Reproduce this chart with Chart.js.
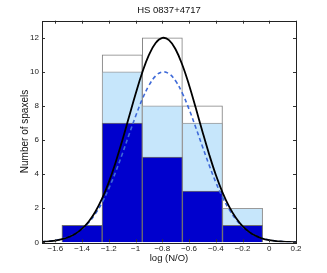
<!DOCTYPE html>
<html>
<head>
<meta charset="utf-8">
<script src="https://cdn.jsdelivr.net/npm/chart.js@4.4.0/dist/chart.umd.min.js"></script>
<style>
  html, body { margin: 0; padding: 0; background: #fff; }
  #wrap { width: 327px; height: 273px; }
</style>
</head>
<body>
<div id="wrap"><canvas id="hist" width="327" height="273"></canvas></div>
<script>
// histogram bins (centre of each 0.3 wide bin)
var binCenters = [-1.4, -1.1, -0.8, -0.5, -0.2];
var countsAll = [1, 11, 12, 8, 2];
var countsLight = [1, 10, 8, 7, 2];
var countsDark = [1, 7, 5, 3, 1];

// fitted curves
var curveX = [-1.7, -1.65, -1.6, -1.55, -1.5, -1.45, -1.4, -1.35, -1.3, -1.25,
    -1.2, -1.15, -1.1, -1.05, -1.0, -0.95, -0.9, -0.85, -0.8, -0.75,
    -0.7, -0.65, -0.6, -0.55, -0.5, -0.45, -0.4, -0.35, -0.3, -0.25,
    -0.2, -0.15, -0.1, -0.05, 0.0, 0.05, 0.1, 0.15, 0.2];
var fitAll = [0.03, 0.06, 0.10, 0.18, 0.31, 0.50, 0.80, 1.22, 1.81, 2.57,
    3.53, 4.67, 5.96, 7.33, 8.70, 9.96, 10.99, 11.69, 11.99, 11.86,
    11.31, 10.40, 9.23, 7.89, 6.50, 5.17, 3.96, 2.93, 2.09, 1.44,
    0.95, 0.61, 0.38, 0.22, 0.13, 0.07, 0.04, 0.02, 0.01];
var fitLight = [0.03, 0.06, 0.11, 0.19, 0.32, 0.50, 0.78, 1.16, 1.68, 2.34,
    3.16, 4.11, 5.17, 6.29, 7.39, 8.39, 9.20, 9.76, 9.99, 9.89,
    9.46, 8.74, 7.81, 6.74, 5.62, 4.53, 3.52, 2.65, 1.93, 1.35,
    0.92, 0.60, 0.38, 0.23, 0.14, 0.08, 0.04, 0.02, 0.01];

var xTicks = [-1.6, -1.4, -1.2, -1, -0.8, -0.6, -0.4, -0.2, 0, 0.2];
var yTicks = [0, 2, 4, 6, 8, 10, 12];

function pts(xs, ys) {
    return xs.map(function (x, i) { return { x: x, y: ys[i] }; });
}
function fmt(v) {
    return (v < 0 ? '\u2212' : '') + Math.abs(v);
}

// matlab style box with inward ticks on all four sides
var boxTicks = {
    id: 'boxTicks',
    afterDraw: function (chart) {
        var ctx = chart.ctx, a = chart.chartArea;
        var sx = chart.scales.x, sy = chart.scales.y;
        var L = 3;
        ctx.save();
        ctx.strokeStyle = '#333';
        ctx.lineWidth = 1;
        ctx.beginPath();
        xTicks.forEach(function (v) {
            var px = Math.round(sx.getPixelForValue(v)) + 0.5;
            ctx.moveTo(px, a.bottom); ctx.lineTo(px, a.bottom - L);
            ctx.moveTo(px, a.top); ctx.lineTo(px, a.top + L);
        });
        yTicks.forEach(function (v) {
            var py = Math.round(sy.getPixelForValue(v)) + 0.5;
            ctx.moveTo(a.left, py); ctx.lineTo(a.left + L, py);
            ctx.moveTo(a.right, py); ctx.lineTo(a.right - L, py);
        });
        ctx.stroke();
        ctx.strokeStyle = '#222';
        ctx.strokeRect(Math.round(a.left) + 0.5, Math.round(a.top) + 0.5,
            Math.round(a.right - a.left), Math.round(a.bottom - a.top));
        ctx.restore();
    }
};

var fontName = '"Liberation Sans", Arial, sans-serif';

var histo = new Chart(document.getElementById('hist').getContext('2d'), {
    type: 'bar',
    data: {
        datasets: [{
            type: 'line',
            xAxisID: 'xb',
            data: pts(curveX, fitAll),
            borderColor: '#000',
            borderWidth: 1.8,
            pointRadius: 0,
            tension: 0.4,
            order: 0
        }, {
            type: 'line',
            xAxisID: 'xb',
            data: pts(curveX, fitLight),
            borderColor: '#3f6ad8',
            borderWidth: 1.6,
            borderDash: [4, 3],
            pointRadius: 0,
            tension: 0.4,
            order: 0
        }, {
            xAxisID: 'xb',
            data: pts(binCenters, countsDark),
            backgroundColor: '#0000cd',
            borderColor: '#6f6f6f',
            borderWidth: 1,
            order: 1
        }, {
            xAxisID: 'xb',
            data: pts(binCenters, countsLight),
            backgroundColor: '#c6e6fb',
            borderColor: '#9a9a9a',
            borderWidth: 1,
            order: 2
        }, {
            xAxisID: 'xb',
            data: pts(binCenters, countsAll),
            backgroundColor: '#ffffff',
            borderColor: '#7f7f7f',
            borderWidth: 1,
            order: 3
        }]
    },
    options: {
        responsive: false,
        animation: false,
        layout: { padding: { left: 0, right: 31, top: 0, bottom: 0 } },
        datasets: {
            bar: { grouped: false, barPercentage: 1, categoryPercentage: 1 }
        },
        plugins: {
            legend: { display: false },
            tooltip: { enabled: false },
            title: {
                display: true,
                fullSize: false,
                text: 'HS 0837+4717',
                color: '#111',
                font: { family: fontName, size: 9.5, weight: 'normal' },
                padding: { top: 5.1, bottom: 4.2 }
            }
        },
        scales: {
            // hidden axis that carries the data (no ticks, so bars keep full bin width)
            xb: {
                type: 'linear',
                display: false,
                offset: false,
                min: -1.7,
                max: 0.2,
                afterBuildTicks: function (s) { s.ticks = []; }
            },
            x: {
                type: 'linear',
                offset: false,
                min: -1.7,
                max: 0.2,
                afterBuildTicks: function (s) { s.ticks = xTicks.map(function (v) { return { value: v }; }); },
                afterFit: function (s) { s.height = 30.7; },
                grid: { display: false, drawTicks: false, offset: false },
                border: { display: false },
                ticks: {
                    padding: 2,
                    color: '#222',
                    maxRotation: 0,
                    autoSkip: false,
                    font: { family: fontName, size: 8 },
                    callback: fmt
                },
                title: {
                    display: true,
                    text: 'log (N/O)',
                    color: '#111',
                    font: { family: fontName, size: 9.5 },
                    padding: { top: 0, bottom: 8.8 }
                }
            },
            y: {
                min: 0,
                max: 13,
                afterBuildTicks: function (s) { s.ticks = yTicks.map(function (v) { return { value: v }; }); },
                afterFit: function (s) { s.width = 42; },
                grid: { display: false, drawTicks: false },
                border: { display: false },
                ticks: {
                    padding: 3,
                    color: '#222',
                    autoSkip: false,
                    font: { family: fontName, size: 8 },
                    callback: fmt
                },
                title: {
                    display: true,
                    text: 'Number of spaxels',
                    color: '#111',
                    font: { family: fontName, size: 10 },
                    padding: { top: 19, bottom: 0 }
                }
            }
        }
    },
    plugins: [boxTicks]
});
</script>
</body>
</html>
